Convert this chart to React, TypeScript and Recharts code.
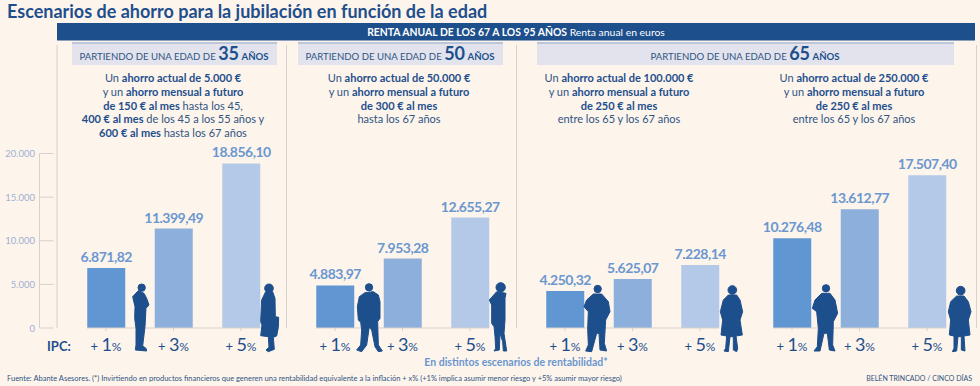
import React from "react";
import { BarChart, Bar, XAxis, YAxis, LabelList, Cell } from "recharts";

const W = 980;
const H = 386;
const FONT = "Lato, 'Open Sans', sans-serif";
const NAVY = "#1d4f8c";
const LABEL_BLUE = "#6a97cf";
const AXIS = "#d9d0cc";
const BAR_COLORS = ["#6096d2", "#8cafdc", "#b4c8e8"];

const ipc = ["1", "3", "5"];
const yTicks = [0, 5000, 10000, 15000, 20000];
const age35 = [6871.82, 11399.49, 18856.1];
const age50 = [4883.97, 7953.28, 12655.27];
const age65a = [4250.32, 5625.07, 7228.14];
const age65b = [10276.48, 13612.77, 17507.4];

const panels = [
  { values: age35, left: 72 },
  { values: age50, left: 301 },
  { values: age65a, left: 531 },
  { values: age65b, left: 758 },
];

// silhouettes, traced in a 3x grid and scaled back down
const people = [
  { ox: 120, head: [65, 53, 11], body: "55,62 38,80 45,110 44,145 48,175 48,225 46,240 80,243 78,235 68,228 75,170 78,115 87,105 80,85 72,70" },
  { ox: 120, head: [447, 55, 13], body: "437,65 425,90 422,155 426,165 422,197 445,200 447,232 438,240 445,245 463,238 460,202 470,198 475,172 476,142 466,140 465,85 458,65" },
  { ox: 350, head: [57, 52, 11], body: "45,68 28,80 22,110 25,150 32,157 35,180 32,225 20,240 35,245 50,225 58,170 65,180 75,230 85,245 97,243 85,225 83,155 90,145 90,95 85,75 70,65" },
  { ox: 350, head: [452, 52, 14], body: "440,65 418,90 425,105 425,160 432,170 435,200 437,235 432,243 448,240 450,190 458,215 460,243 470,243 462,190 465,150 465,85 468,70" },
  { ox: 575, head: [68, 57, 11], body: "55,72 35,90 27,110 40,125 38,175 40,225 32,243 50,245 65,190 72,190 75,240 95,243 88,220 92,150 105,125 100,95 80,72" },
  { ox: 575, head: [472, 60, 13], body: "460,75 445,90 436,125 443,150 438,195 455,198 452,235 447,243 460,245 465,200 475,200 475,240 485,245 488,235 483,198 502,195 495,150 503,125 495,90 485,75" },
  { ox: 800, head: [78, 55, 11], body: "65,70 45,90 37,115 50,125 55,175 52,230 42,243 60,243 72,190 82,190 88,240 105,243 98,225 100,155 113,130 105,90 90,70" },
  { ox: 800, head: [482, 62, 13], body: "470,78 452,95 445,125 452,150 448,195 462,198 462,235 457,245 470,243 474,200 484,200 484,240 495,243 492,198 510,195 505,150 513,125 505,95 492,78" },
];

const euro = (v: number) =>
  v.toFixed(2).replace(".", ",").replace(/\B(?=(\d{3})+(?!\d))/g, ".");

const PctTick = ({ x, payload }: any) => (
  <text x={x} y={221} textAnchor="middle" fill={NAVY} fontFamily={FONT}>
    <tspan fontSize={13}>+ </tspan>
    <tspan fontSize={18}>{payload.value}</tspan>
    <tspan fontSize={12}>%</tspan>
  </text>
);

const ValueTick = ({ y, payload }: any) => (
  <text x={35} y={y + 3.5} textAnchor="end" fill="#9db1d2" fontSize={9.5} fontFamily={FONT}>
    {payload.value.toLocaleString("de-DE")}
  </text>
);

function Panel({ values, left }: { values: number[]; left: number }) {
  const data = values.map((v, i) => ({ ipc: ipc[i], v }));
  return (
    <div style={{ position: "absolute", left, top: 130 }}>
      <BarChart width={203} height={238} data={data} margin={{ top: 23.5, right: 15, bottom: 10, left: 15 }}>
        <XAxis dataKey="ipc" scale="point" padding={{ left: 19, right: 19 }} height={30} tick={<PctTick />} tickLine={{ stroke: AXIS }} tickSize={3} axisLine={{ stroke: AXIS }} interval={0} />
        <YAxis hide domain={[0, 20000]} ticks={yTicks} />
        <Bar dataKey="v" barSize={38} isAnimationActive={false}>
          {data.map((d, i) => (
            <Cell key={d.ipc} fill={BAR_COLORS[i]} />
          ))}
          <LabelList dataKey="v" position="top" offset={6} formatter={(v: any) => euro(v)} fill={LABEL_BLUE} fontSize={14} fontWeight={700} letterSpacing={-0.5} fontFamily={FONT} />
        </Bar>
      </BarChart>
    </div>
  );
}

function YScale() {
  return (
    <div style={{ position: "absolute", left: 0, top: 130 }}>
      <BarChart width={60} height={238} data={[{ v: 0 }]} margin={{ top: 23.5, right: 0, bottom: 40, left: 0 }}>
        <YAxis orientation="right" domain={[0, 20000]} ticks={yTicks} width={20.5} tickSize={14} tickMargin={0} interval={0}
          tick={<ValueTick />} axisLine={{ stroke: AXIS }} tickLine={{ stroke: AXIS }} />
        <Bar dataKey="v" isAnimationActive={false} />
      </BarChart>
    </div>
  );
}

const T = ({ x, y, size = 11, color = "#2f5583", weight = 400, anchor = "middle", children }: any) => (
  <text x={x} y={y} fontSize={size} fill={color} fontWeight={weight} textAnchor={anchor} fontFamily={FONT}>{children}</text>
);
const B = ({ children }: any) => <tspan fontWeight={700} fill={NAVY}>{children}</tspan>;

const Strip = ({ x, width }: { x: number; width: number }) => (
  <>
    <rect x={x} y={42} width={width} height={23} fill="#e2e3ed" />
    <rect x={x} y={42} width={width} height={2} fill="#bcc6d8" />
  </>
);

const AgeHead = ({ x, age }: { x: number; age: string }) => (
  <T x={x} y={60} size={9.6}>
    PARTIENDO DE UNA EDAD DE <tspan fontSize={18} fontWeight={700} fill={NAVY}>{age}</tspan> <B>AÑOS</B>
  </T>
);

function Furniture() {
  return (
    <svg width={W} height={H} style={{ position: "absolute", left: 0, top: 0 }}>
      <T x={7} y={18} size={18} weight={700} anchor="start" color={NAVY}>Escenarios de ahorro para la jubilación en función de la edad</T>
      <rect x={57} y={23} width={918} height={17.5} fill={NAVY} />
      <T x={516} y={36} size={10.4} color="#fff"><tspan fontWeight={700}>RENTA ANUAL DE LOS 67 A LOS 95 AÑOS</tspan>  Renta anual en euros</T>
      <line x1={57} x2={57} y1={45} y2={328} stroke={AXIS} />
      <line x1={286.5} x2={286.5} y1={45} y2={328} stroke={AXIS} />
      <line x1={516.5} x2={516.5} y1={45} y2={328} stroke={AXIS} />
      <line x1={976.5} x2={976.5} y1={45} y2={328} stroke={AXIS} />
      <Strip x={72} width={205} />
      <Strip x={298} width={205} />
      <Strip x={537} width={417} />
      <AgeHead x={174} age="35" />
      <AgeHead x={400} age="50" />
      <AgeHead x={745} age="65" />
      <T x={173} y={82}>Un <B>ahorro actual de 5.000 €</B></T>
      <T x={173} y={96}>y un <B>ahorro mensual a futuro</B></T>
      <T x={173} y={110}><B>de 150 € al mes</B>  hasta los 45,</T>
      <T x={173} y={123}><B>400 € al mes</B> de los 45 a los 55 años y</T>
      <T x={173} y={137}><B>600 € al mes</B> hasta los 67 años</T>
      <T x={399} y={82}>Un <B>ahorro actual de 50.000 €</B></T>
      <T x={399} y={96}>y un <B>ahorro mensual a futuro</B></T>
      <T x={399} y={110}><B>de 300 € al mes</B></T>
      <T x={399} y={123}>hasta los 67 años</T>
      <T x={619} y={82}>Un <B>ahorro actual de 100.000 €</B></T>
      <T x={619} y={96}>y un <B>ahorro mensual a futuro</B></T>
      <T x={619} y={110}><B>de 250 € al mes</B></T>
      <T x={619} y={123}>entre los 65 y los 67 años</T>
      <T x={854} y={82}>Un <B>ahorro actual de 250.000 €</B></T>
      <T x={854} y={96}>y un <B>ahorro mensual a futuro</B></T>
      <T x={854} y={110}><B>de 250 € al mes</B></T>
      <T x={854} y={123}>entre los 65 y los 67 años</T>
      <T x={47} y={351} size={13} weight={700} anchor="start" color={NAVY}>IPC:</T>
      <T x={516} y={366} size={10.5} weight={700} color={LABEL_BLUE}>En distintos escenarios de rentabilidad*</T>
      <T x={7} y={381} size={7.5} anchor="start">Fuente: Abante Asesores. (*) Invirtiendo en productos financieros que generen una rentabilidad equivalente a la inflación + x% (+1% implica asumir menor riesgo y +5% asumir mayor riesgo)</T>
      <T x={972} y={381} size={7} anchor="end">BELÉN TRINCADO / CINCO DÍAS</T>
    </svg>
  );
}

function People() {
  return (
    <svg width={W} height={H} style={{ position: "absolute", left: 0, top: 0, pointerEvents: "none" }}>
      {people.map((p) => (
        <g key={p.body} transform={`translate(${p.ox} 270) scale(${1 / 3})`} fill={NAVY} stroke={NAVY} strokeWidth={3} strokeLinejoin="round">
          <circle cx={p.head[0]} cy={p.head[1]} r={p.head[2]} />
          <polygon points={p.body} />
        </g>
      ))}
    </svg>
  );
}

export default function App() {
  return (
    <div style={{ position: "absolute", left: 0, top: 0, width: W, height: H, background: "#fdf4ec", overflow: "hidden" }}>
      <Furniture />
      <YScale />
      {panels.map((p) => (
        <Panel key={p.left} values={p.values} left={p.left} />
      ))}
      <People />
    </div>
  );
}
